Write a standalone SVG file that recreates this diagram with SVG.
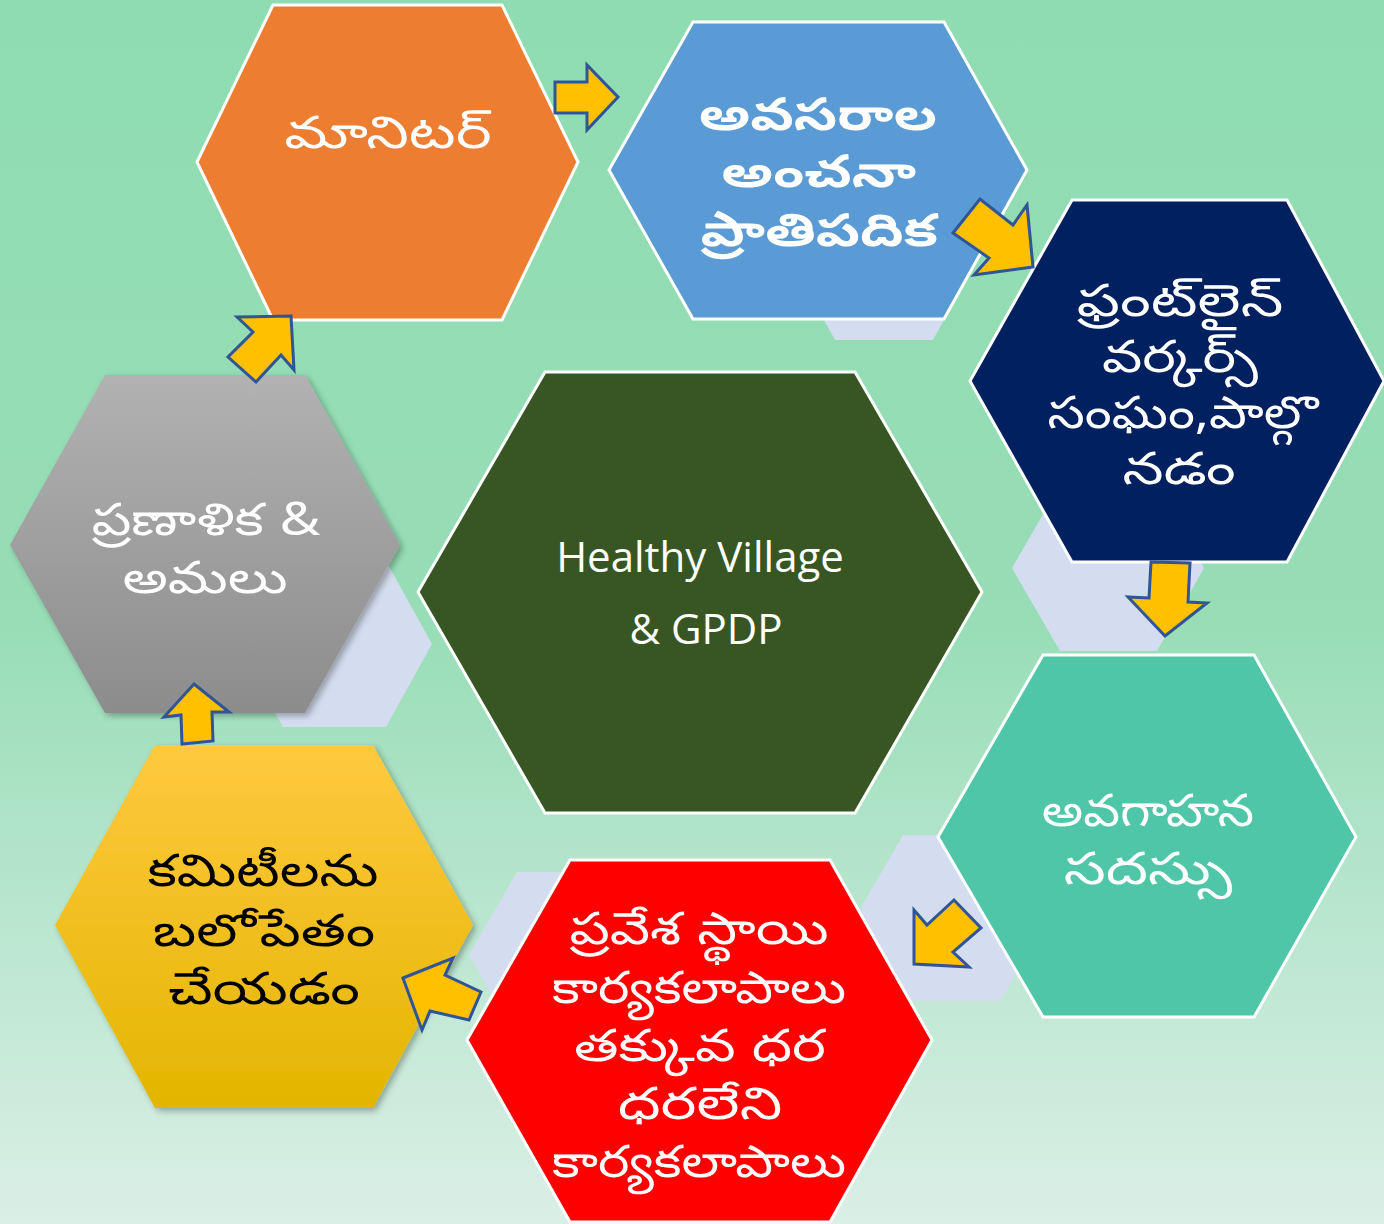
<svg xmlns="http://www.w3.org/2000/svg" width="1384" height="1224" viewBox="0 0 1384 1224">
<defs>
<linearGradient id="bg" x1="0" y1="0" x2="0" y2="1">
<stop offset="0" stop-color="#8FDCB2"/>
<stop offset="0.5" stop-color="#97DDB6"/>
<stop offset="1" stop-color="#DBEFE7"/>
</linearGradient>
<linearGradient id="gGray" x1="0" y1="0" x2="0" y2="1">
<stop offset="0" stop-color="#B2B2B2"/>
<stop offset="1" stop-color="#8C8C8C"/>
</linearGradient>
<linearGradient id="gGold" x1="0" y1="0" x2="0" y2="1">
<stop offset="0" stop-color="#FFC93F"/>
<stop offset="1" stop-color="#E3B500"/>
</linearGradient>
<filter id="sh" x="-10%" y="-10%" width="130%" height="130%">
<feDropShadow dx="3" dy="3" stdDeviation="3" flood-color="#000" flood-opacity="0.3"/>
</filter>
</defs>
<style>
.hx{stroke:#FFFFFF;stroke-width:3;stroke-linejoin:miter}
.ghost{fill:#D3DDEF}
.arr{fill:#FFC000;stroke:#2F5597;stroke-width:3;stroke-linejoin:miter}
.t{font-family:"Noto Sans Telugu","Noto Sans",sans-serif;font-size:45px;fill:#FFFFFF;text-anchor:middle}
.b{font-weight:bold}
.k{fill:#000000}
.en{font-family:"Open Sans","Noto Sans",sans-serif;font-size:42px;fill:#FFFFFF;text-anchor:middle}
</style>
<rect x="0" y="0" width="1384" height="1224" fill="url(#bg)"/>

<g id="ghosts">
<polygon class="ghost" points="835,340 933,340 985,245 933,150 835,150 783,245"/>
<polygon class="ghost" points="1012,568 1060,651 1157,651 1204,568 1157,485 1060,485"/>
<polygon class="ghost" points="855,918 903,835 1000,835 1048,918 1000,1001 903,1001"/>
<polygon class="ghost" points="469,955 517,872 614,872 662,955 614,1038 517,1038"/>
<polygon class="ghost" points="237,644 283,561 386,561 432,644 386,727 283,727"/>
</g>

<g id="n-monitor">
<polygon class="hx" fill="#ED7D31" points="197,162 273,5 502,5 578,162 502,320 273,320"/>
<text class="t" x="0" y="148" transform="translate(388,0) scale(1.35,1)">మానిటర్</text>
</g>

<g id="n-needs">
<polygon class="hx" fill="#5B9BD5" points="609,170 693,22 944,22 1027,170 944,319 693,319"/>
<text class="t b" x="0" y="130" transform="translate(818,0) scale(1.25,1)">అవసరాల</text>
<text class="t b" x="0" y="187" transform="translate(819,0) scale(1.26,1)">అంచనా</text>
<text class="t b" x="0" y="246" transform="translate(819,0) scale(1.27,1)">ప్రాతిపదిక</text>
</g>

<g id="n-frontline">
<polygon class="hx" fill="#002060" points="970,381 1072,200 1287,200 1384,381 1287,562 1072,562"/>
<text class="t" x="0" y="316" transform="translate(1180,0) scale(1.35,1)">ఫ్రంట్‌లైన్</text>
<text class="t" x="0" y="372" transform="translate(1180,0) scale(1.26,1)">వర్కర్స్</text>
<text class="t" x="0" y="428" transform="translate(1183,0) scale(1.18,1)">సంఘం,పాల్గొ</text>
<text class="t" x="0" y="484" transform="translate(1179,0) scale(1.3,1)">నడం</text>
</g>

<g id="n-awareness">
<polygon class="hx" fill="#4FC6A7" points="938,837 1043,655 1254,655 1356,837 1254,1017 1043,1017"/>
<text class="t" x="0" y="826" transform="translate(1148,0) scale(1.15,1)">అవగాహన</text>
<text class="t" x="0" y="884" transform="translate(1148,0) scale(1.33,1)">సదస్సు</text>
</g>

<g id="n-entry">
<polygon class="hx" fill="#FF0000" points="467,1040 570,860 830,860 932,1040 830,1222 570,1222"/>
<text class="t" x="0" y="944" transform="translate(699,0) scale(1.26,1)">ప్రవేశ స్థాయి</text>
<text class="t" x="0" y="1003" transform="translate(699,0) scale(1.18,1)">కార్యకలాపాలు</text>
<text class="t" x="0" y="1061" transform="translate(700,0) scale(1.27,1)">తక్కువ ధర</text>
<text class="t" x="0" y="1119" transform="translate(700,0) scale(1.35,1)">ధరలేని</text>
<text class="t" x="0" y="1177" transform="translate(699,0) scale(1.18,1)">కార్యకలాపాలు</text>
</g>

<g id="n-committees">
<polygon fill="url(#gGold)" filter="url(#sh)" points="55,925 155,745 373,745 473,925 373,1108 155,1108"/>
<text class="t k" x="0" y="886" transform="translate(263,0) scale(1.25,1)">కమిటీలను</text>
<text class="t k" x="0" y="946" transform="translate(264,0) scale(1.29,1)">బలోపేతం</text>
<text class="t k" x="0" y="1004" transform="translate(264,0) scale(1.3,1)">చేయడం</text>
</g>

<g id="n-plan">
<polygon fill="url(#gGray)" filter="url(#sh)" points="10,545 105,375 305,375 400,545 305,713 105,713"/>
<text class="t" x="0" y="535" transform="translate(206,0) scale(1.24,1)">ప్రణాళిక &amp;</text>
<text class="t" x="0" y="593" transform="translate(205,0) scale(1.26,1)">అమలు</text>
</g>

<g id="n-center">
<polygon class="hx" fill="#375623" points="418,592 545,372 855,372 982,592 855,813 545,813"/>
<text class="en" x="700" y="572">Healthy Village</text>
<text class="en" x="706" y="644">&amp; GPDP</text>
</g>

<g id="connectors">
<polygon class="arr" points="555,82 587,82 587,65 618,97 587,130 587,113 555,113"/>
<polygon class="arr" points="953,233 980,199 1013,225 1027,205 1033,267 974,275 989,258"/>
<polygon class="arr" points="1151,562 1190,563 1188,602 1207,603 1165,636 1128,597 1149,598"/>
<polygon class="arr" points="914,910 927,925 954,900 981,928 953,952 969,967 914,964"/>
<polygon class="arr" points="403,978 453,958 445,975 481,992 469,1020 430,1011 422,1030"/>
<polygon class="arr" points="194,684 229,712 212,712 213,741 182,744 181,715 164,717"/>
<polygon class="arr" points="291,316 294,370 281,355 256,382 228,357 253,332 237,317"/>
</g>
</svg>
